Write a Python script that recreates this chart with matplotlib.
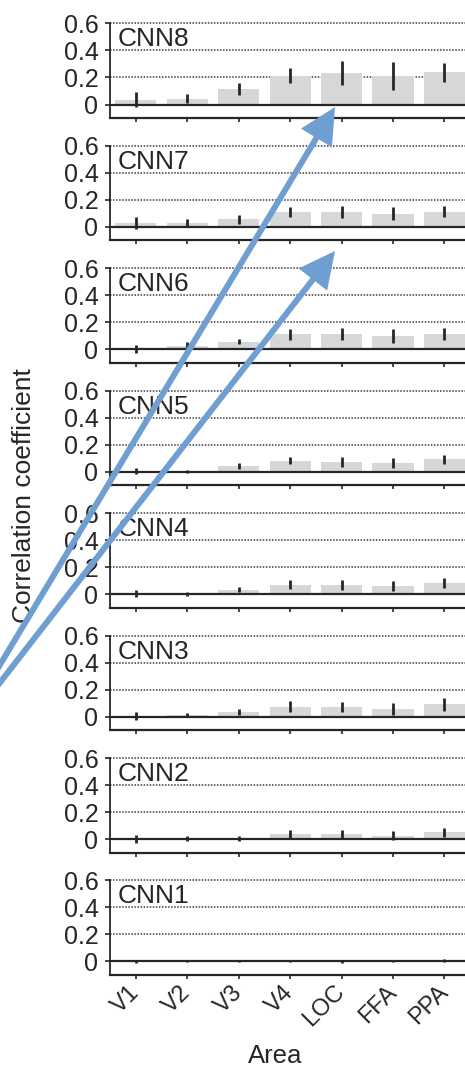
import numpy as np
import matplotlib.pyplot as plt
from matplotlib.patches import FancyArrowPatch

plt.rcParams['font.family'] = ['Liberation Sans', 'DejaVu Sans']

areas = ['V1', 'V2', 'V3', 'V4', 'LOC', 'FFA', 'PPA']
layers = ['CNN8', 'CNN7', 'CNN6', 'CNN5', 'CNN4', 'CNN3', 'CNN2', 'CNN1']

# mean correlation per area and the error bar half-length, one pair per layer
cnn8 = [0.034, 0.044, 0.116, 0.214, 0.234, 0.210, 0.238]
cnn8_err = [0.056, 0.036, 0.043, 0.055, 0.088, 0.105, 0.072]
cnn7 = [0.030, 0.028, 0.058, 0.112, 0.110, 0.098, 0.114]
cnn7_err = [0.044, 0.030, 0.033, 0.036, 0.046, 0.049, 0.043]
cnn6 = [0.004, 0.022, 0.058, 0.112, 0.112, 0.100, 0.114]
cnn6_err = [0.031, 0.029, 0.021, 0.041, 0.046, 0.050, 0.044]
cnn5 = [0.005, 0.004, 0.042, 0.083, 0.072, 0.065, 0.092]
cnn5_err = [0.020, 0.012, 0.022, 0.028, 0.035, 0.040, 0.034]
cnn4 = [0.004, 0.005, 0.034, 0.071, 0.067, 0.059, 0.082]
cnn4_err = [0.028, 0.015, 0.020, 0.032, 0.035, 0.036, 0.039]
cnn3 = [0.006, 0.010, 0.037, 0.075, 0.071, 0.057, 0.090]
cnn3_err = [0.030, 0.014, 0.023, 0.040, 0.035, 0.045, 0.045]
cnn2 = [0.002, 0.006, 0.007, 0.034, 0.038, 0.026, 0.050]
cnn2_err = [0.030, 0.018, 0.018, 0.035, 0.031, 0.035, 0.034]
cnn1 = [0.002, 0.002, 0.002, 0.003, 0.002, 0.002, 0.006]
cnn1_err = [0.010, 0.008, 0.008, 0.010, 0.010, 0.008, 0.012]

means = [cnn8, cnn7, cnn6, cnn5, cnn4, cnn3, cnn2, cnn1]
errs = [cnn8_err, cnn7_err, cnn6_err, cnn5_err, cnn4_err, cnn3_err, cnn2_err, cnn1_err]

ink = '#262626'
bar_color = '#d6d7d9'
arrow_color = '#6f9ed1'

fig = plt.figure(figsize=(4.65, 10.67), dpi=100)
x = np.arange(len(areas))

for i in range(len(layers)):
    ax = fig.add_axes([0.237, 0.8894 - 0.11474 * i, 0.774, 0.0886])
    for yv in [0.2, 0.4, 0.6]:
        ax.axhline(yv, color='#3c3c3c', lw=1.1, ls=(0, (1, 1)), zorder=1, clip_on=False)
    ax.bar(x, means[i], width=0.8, color=bar_color, zorder=2)
    ax.axhline(0, color=ink, lw=1.6, zorder=3)
    ax.errorbar(x, means[i], yerr=errs[i], fmt='none', ecolor=ink,
                elinewidth=2.0, capsize=0, zorder=4)

    ax.set_xlim(-0.5, 6.5)
    ax.set_ylim(-0.1, 0.6)
    ax.set_yticks([0, 0.2, 0.4, 0.6])
    ax.set_yticklabels(['0', '0.2', '0.4', '0.6'])
    ax.set_xticks(x)
    if i == len(layers) - 1:
        ax.set_xticklabels(areas, rotation=45, ha='right', va='center',
                           rotation_mode='anchor', fontsize=17, color=ink)
    else:
        ax.set_xticklabels([])
    ax.tick_params(axis='y', labelsize=18, colors=ink, length=3.5, width=1.2, pad=5)
    ax.tick_params(axis='x', colors=ink, length=3, width=1.2, pad=7)

    ax.spines['top'].set_visible(False)
    ax.spines['right'].set_visible(False)
    ax.spines['left'].set_color(ink)
    ax.spines['bottom'].set_color(ink)
    ax.spines['left'].set_linewidth(1.3)
    ax.spines['bottom'].set_linewidth(1.6)

    ax.text(0.022, 0.43, layers[i], transform=ax.get_yaxis_transform(),
            fontsize=19, color=ink, ha='left', va='baseline')

fig.text(0.052, 0.536, 'Correlation coefficient', rotation=90, fontsize=19,
         color=ink, ha='center', va='center')
fig.text(0.591, 0.004, 'Area', fontsize=18.5, color=ink, ha='center', va='baseline')

# two arrows pointing up at the LOC bars of the top layers
for start, tip in [((-5, 673), (335, 107)), ((-5, 689), (335, 251))]:
    a = FancyArrowPatch((start[0] / 465, 1 - start[1] / 1067),
                        (tip[0] / 465, 1 - tip[1] / 1067),
                        transform=fig.transFigure,
                        arrowstyle='-|>,head_length=19,head_width=9.5',
                        mutation_scale=1, shrinkA=0, shrinkB=0,
                        color=arrow_color, lw=4.3, joinstyle='miter',
                        capstyle='butt', zorder=10)
    fig.add_artist(a)

fig.savefig('out.png', dpi=100)
